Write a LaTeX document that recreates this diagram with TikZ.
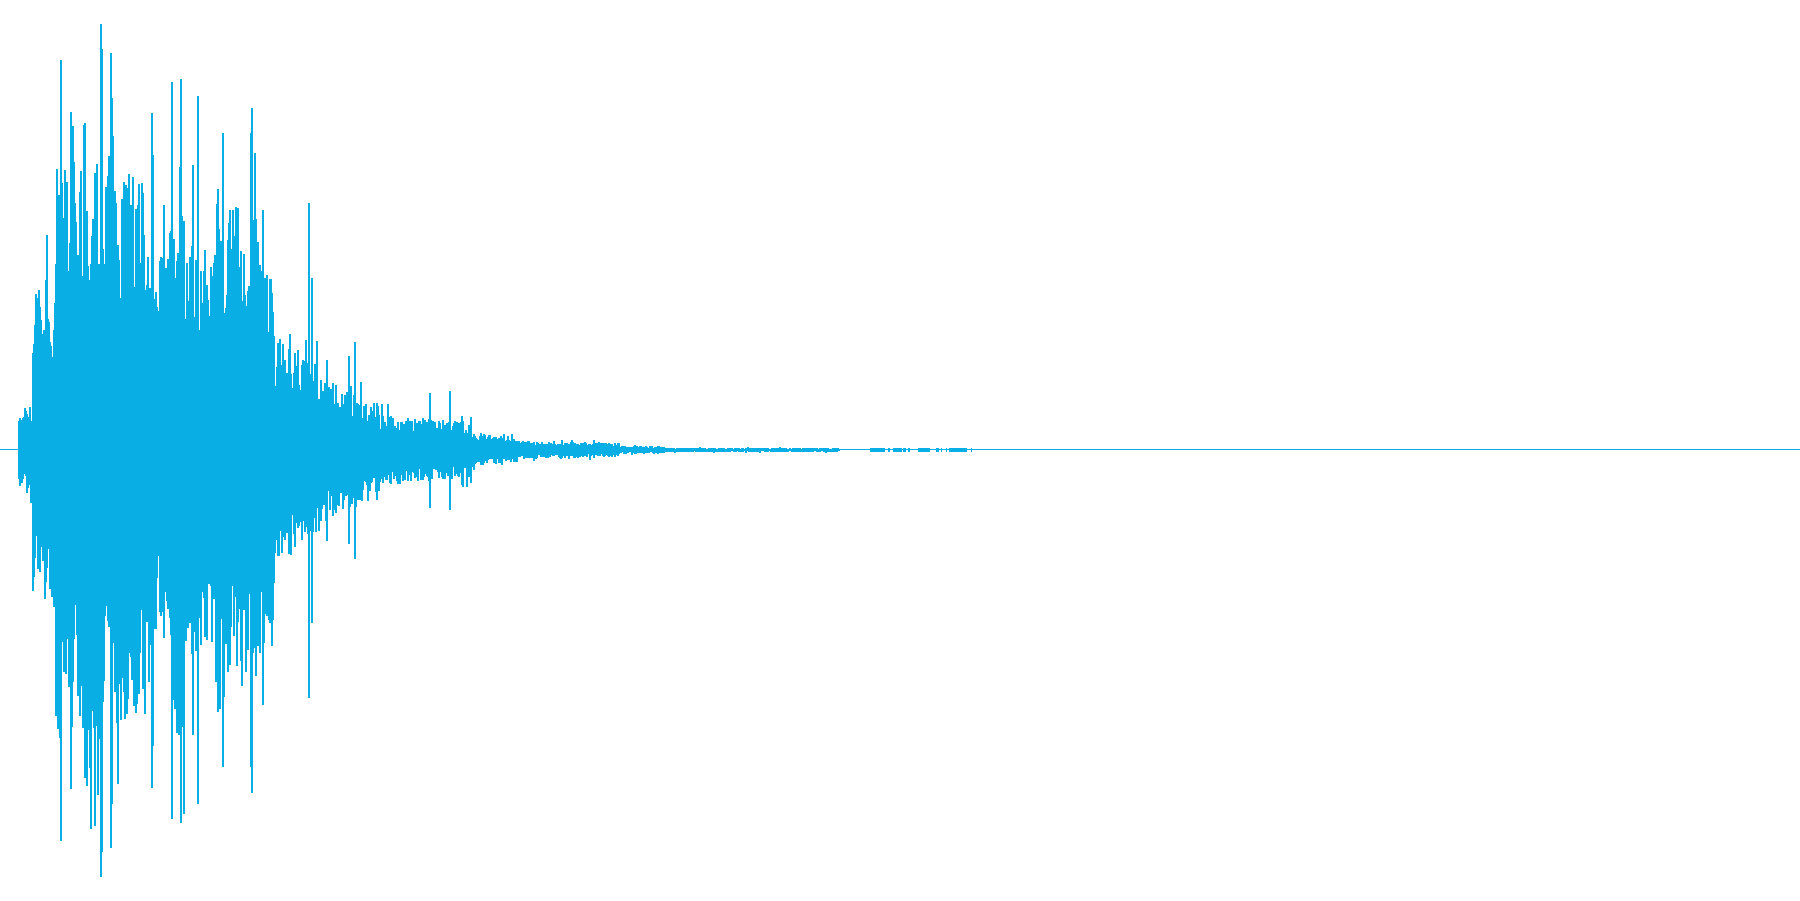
\documentclass[tikz,border=0pt]{standalone}
\usepackage{xcolor}
\definecolor{wave}{RGB}{8,174,228}
\begin{document}
\begin{tikzpicture}[x=0.25mm, y=0.25mm, wavebar/.style={wave, line width=0.3mm}]
    \useasboundingbox (0, -450) rectangle (1800, 450);
    \pgfmathsetseed{4242}
    \draw[wave, line width=0.25mm] (0, 0) -- (1800, 0);
    \foreach \xa/\xb/\ea/\eb in {19/33/45/45, 33/56/160/160, 56/100/290/290, 100/130/300/280, 130/150/280/260,
        150/170/200/190, 170/185/290/290, 185/215/210/200, 215/265/250/240, 265/275/200/200, 275/300/120/100,
        300/320/95/85, 320/380/75/45, 380/470/36/28, 470/520/18/12, 520/620/9/7,
        620/665/4/4, 665/840/2.2/2.2} {
        \pgfmathtruncatemacro{\xe}{\xb - 1}
        \foreach \x in {\xa, ..., \xe} {
            \pgfmathsetmacro{\env}{\ea + (\eb - \ea)*(\x - \xa)/(\xb - \xa)}
            \pgfmathsetmacro{\up}{\env*(0.5 + 0.5*rnd)*(rnd > 0.92 ? 1.35 : 1)}
            \pgfmathsetmacro{\dn}{\env*(0.5 + 0.5*rnd)*(rnd > 0.92 ? 1.35 : 1)}
            \draw[wavebar] (\x, \up) -- (\x, -\dn);
        }
    }
    \foreach \x/\up/\dn in {61/390/391, 71/338/339, 85/327/328, 101/426/427, 102/401/402, 111/397/398,
        112/352/354, 152/337/338, 153/295/296, 172/368/369, 181/371/373, 193/285/285, 198/354/354,
        218/261/262, 223/317/317, 251/317/317, 252/342/343, 309/247/248, 312/172/173, 327/90/91,
        349/94/94, 355/108/109, 430/57/58, 450/59/60, 462/34/35, 471/33/33}
        \draw[wavebar] (\x, \up) -- (\x, -\dn);
    \foreach \xa/\xb in {870/885, 888/890, 893/902, 903/906, 908/910, 918/930, 936/939, 941/942,
        946/947, 949/967, 971/972}
        \fill[wave] (\xa, -2) rectangle (\xb, 2);
\end{tikzpicture}
\end{document}
